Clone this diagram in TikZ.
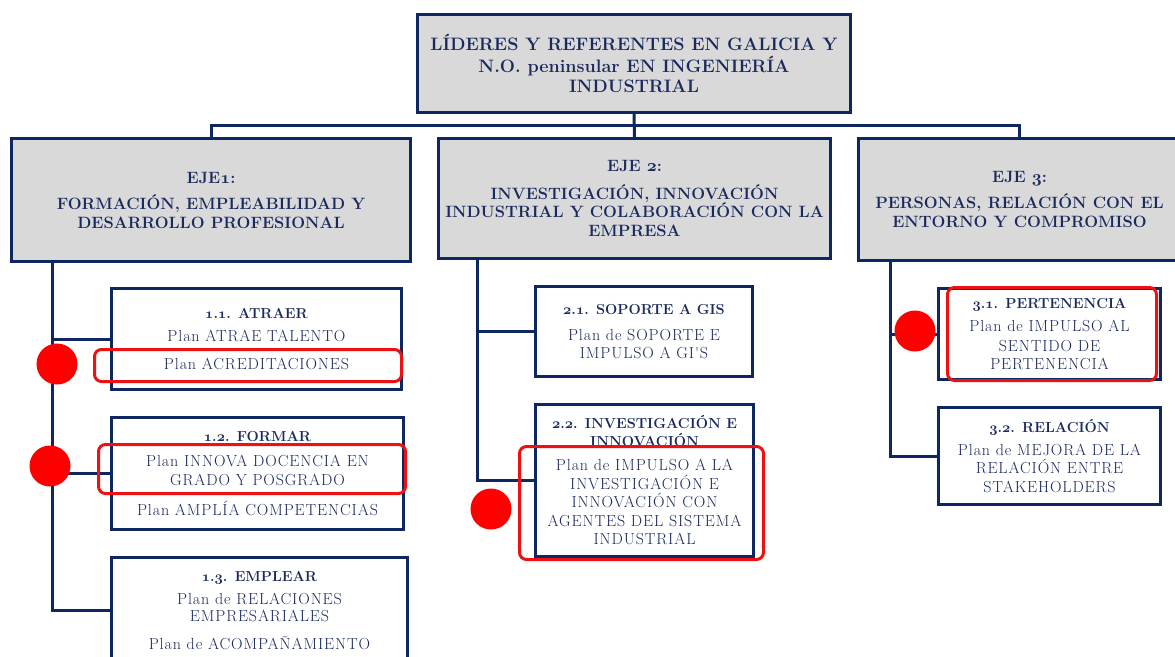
\documentclass[tikz,border=0pt]{standalone}
\usepackage{fontspec}
\newfontfamily\bodyfont{Latin Modern Roman}[LetterSpace=5.5]
\definecolor{navy}{HTML}{0F2760}
\definecolor{navytext}{HTML}{1B2A5E}
\definecolor{boxgray}{HTML}{D9D9D9}
\definecolor{hlred}{HTML}{EE1111}
\definecolor{dotred}{HTML}{FF0000}
\tikzset{
  box/.style={draw=navy, line width=3pt, fill=white, align=center, text=navytext,
    anchor=north west, inner sep=0pt, font=\bodyfont\fontsize{16}{18.5}\selectfont},
  gbox/.style={box, fill=boxgray, font=\normalfont\fontsize{16.4}{18.5}\selectfont\bfseries},
  titlebox/.style={box, fill=boxgray, font=\normalfont\fontsize{18}{21}\selectfont\bfseries},
  conn/.style={draw=navy, line width=3pt},
  hl/.style={draw=hlred, line width=3pt, rounded corners=7pt, inner sep=0pt, anchor=north west},
  reddot/.style={circle, fill=dotred, minimum size=41pt, inner sep=0pt},
}
\newcommand{\hdr}[1]{{\normalfont\fontsize{14.5}{18.5}\selectfont\bfseries #1}}
\newcommand{\osn}[1]{{\usefont{OML}{cmm}{b}{it}#1}}
\begin{document}
\begin{tikzpicture}[x=1pt,y=-1pt]
\useasboundingbox (0,0) rectangle (1175,656);
\clip (0,0) rectangle (1175,656);
% title
\node[titlebox, minimum width=433pt, minimum height=98pt] (top) at (416,13)
  {LÍDERES Y REFERENTES EN GALICIA Y\\[0.5pt] N.O. peninsular EN INGENIERÍA\\[-1pt] INDUSTRIAL};
% axes
\node[gbox, minimum width=399pt, minimum height=123pt] (eje1) at (10,137)
  {EJE\osn{1}:\\[8pt] FORMACIÓN, EMPLEABILIDAD Y\\ DESARROLLO PROFESIONAL};
\node[gbox, minimum width=392pt, minimum height=120pt] (eje2) at (437,137)
  {EJE \osn{2}:\\[9pt] INVESTIGACIÓN, INNOVACIÓN\\ INDUSTRIAL Y COLABORACIÓN CON LA\\ EMPRESA};
\node[gbox, minimum width=322pt, minimum height=122pt] (eje3) at (857,137)
  {EJE \osn{3}:\\[7pt] PERSONAS, RELACIÓN CON EL\\[1pt] ENTORNO Y COMPROMISO};
\coordinate (bus) at (633,125);
\draw[conn] (top.south) -- (eje2.north);
\draw[conn] (eje1.north) |- (bus) -| (eje3.north);
% sub boxes
\node[box, minimum width=290pt, minimum height=101pt] (b11) at (110,287)
  {\hdr{\osn{1}.\osn{1}. ATRAER}\\[4.5pt] Plan ATRAE TALENTO\\[9.5pt] Plan ACREDITACIONES};
\node[box, minimum width=292pt, minimum height=112pt] (b12) at (110,416)
  {\hdr{\osn{1}.\osn{2}. FORMAR}\\[6.5pt] Plan INNOVA DOCENCIA EN\\ GRADO Y POSGRADO\\[11.5pt] Plan AMPLÍA COMPETENCIAS};
\node[box, minimum width=296pt, minimum height=106pt] (b13) at (110,556)
  {\hdr{\osn{1}.\osn{3}. EMPLEAR}\\[4.5pt] Plan de RELACIONES\\[-1pt] EMPRESARIALES\\[9.5pt] Plan de ACOMPAÑAMIENTO};
\node[box, minimum width=217pt, minimum height=90pt] (b21) at (534,285)
  {\hdr{\osn{2}.\osn{1}. SOPORTE A GIS}\\[7.5pt] Plan de SOPORTE E\\ IMPULSO A GI'S};
\node[box, minimum width=218pt, minimum height=152pt] (b22) at (534,403)
  {\hdr{\osn{2}.\osn{2}. INVESTIGACIÓN E}\\[-0.5pt] \hdr{INNOVACIÓN}\\[5.5pt] Plan de IMPULSO A LA\\ INVESTIGACIÓN E\\ INNOVACIÓN CON\\ AGENTES DEL SISTEMA\\ INDUSTRIAL};
\node[box, minimum width=222pt, minimum height=91pt] (b31) at (937,287)
  {\hdr{\osn{3}.\osn{1}. PERTENENCIA}\\[4.5pt] Plan de IMPULSO AL\\[1.5pt] SENTIDO DE\\ PERTENENCIA};
\node[box, minimum width=222pt, minimum height=97pt] (b32) at (937,406)
  {\hdr{\osn{3}.\osn{2}. RELACIÓN}\\[4.5pt] Plan de MEJORA DE LA\\ RELACIÓN ENTRE\\ STAKEHOLDERS};
% trunks
\coordinate (t1) at (52,260);
\coordinate (t2) at (477,257);
\coordinate (t3) at (890,259);
\draw[conn] (t1) |- (b13.west);
\draw[conn] (t1 |- b11.west) -- (b11.west);
\draw[conn] (t1 |- b12.west) -- (b12.west);
\draw[conn] (t2) |- (b22.west);
\draw[conn] (t2 |- b21.west) -- (b21.west);
\draw[conn] (t3) |- (b32.west);
\draw[conn] (t3 |- b31.west) -- (b31.west);
% highlights
\node[hl, minimum width=307pt, minimum height=32pt] (h11) at (93,348) {};
\node[hl, minimum width=307pt, minimum height=49pt] (h12) at (97,443) {};
\node[hl, minimum width=244pt, minimum height=113pt] (h22) at (518,445) {};
\node[hl, minimum width=209pt, minimum height=93pt] (h31) at (946,286) {};
\node[reddot] (d11) at (57,364) {};
\node[reddot] (d12) at (50,466) {};
\node[reddot] (d22) at (491,509) {};
\node[reddot] (d31) at (915,331) {};
\end{tikzpicture}
\end{document}
